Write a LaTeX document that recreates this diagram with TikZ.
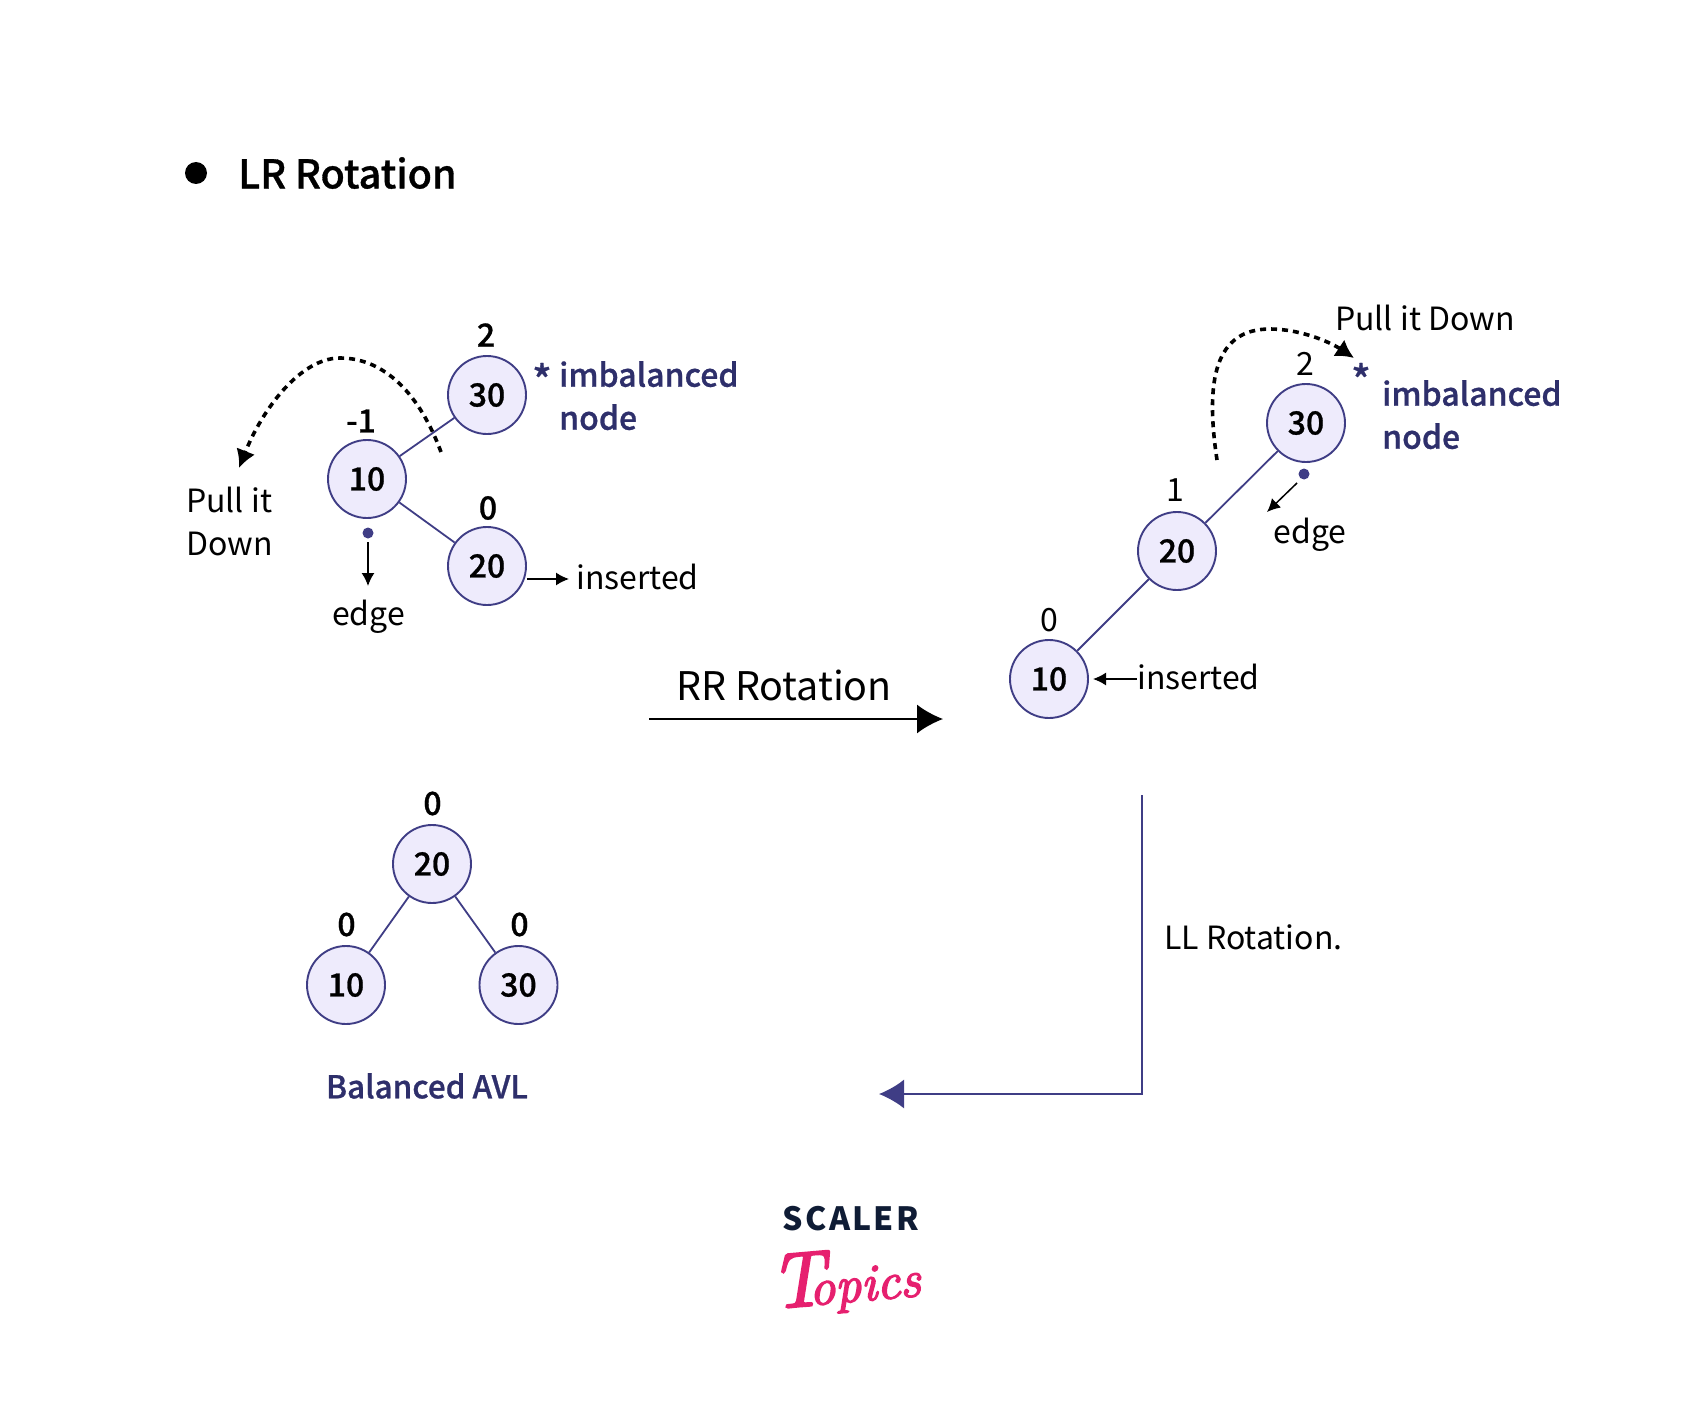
\documentclass[tikz,border=0pt]{standalone}
\usepackage{fontspec}
\usetikzlibrary{arrows.meta}
\setmainfont{Noto Sans CJK JP}
\newfontfamily\medf[FakeBold=0.8]{Noto Sans CJK JP Medium}
\newfontfamily\logofont[FakeBold=3]{Latin Modern Roman}
\definecolor{edgeblue}{HTML}{3F3D85}
\definecolor{nodefill}{HTML}{EEEBFC}
\definecolor{navy}{HTML}{2E2F6B}
\definecolor{logonavy}{HTML}{0F1C35}
\definecolor{logopink}{HTML}{E6206F}
\tikzset{
  x=1pt,y=-1pt,
  treenode/.style={circle,draw=edgeblue,fill=nodefill,line width=1.9pt,minimum size=78pt,inner sep=0pt,font=\medf\fontsize{32}{36}\selectfont,text=black},
  treeedge/.style={draw=edgeblue,line width=1.8pt},
  lab/.style={inner sep=0pt,font=\fontsize{32}{43}\selectfont,text=black},
  blab/.style={inner sep=0pt,font=\medf\fontsize{32}{43}\selectfont,text=black},
  navylab/.style={inner sep=0pt,align=left,font=\medf\fontsize{32}{43}\selectfont,text=navy},
  starlab/.style={inner sep=0pt,font=\medf\fontsize{40}{43}\selectfont,text=navy},
  thinarrow/.style={draw=black,line width=1.5pt,-{Latex[length=13pt,width=13pt]}},
  pull/.style={draw=black,line width=3.6pt,dash pattern=on 6pt off 5pt,-{Latex[length=18pt,width=20pt]}},
}
\begin{document}
\begin{tikzpicture}
\useasboundingbox (0,0) rectangle (1701,1418);
% title
\fill[black] (196,173) circle (11);
\node[inner sep=0pt,anchor=west,font=\medf\fontsize{39.5}{48}\selectfont] (title) at (238,173) {LR Rotation};
% left tree
\node[treenode] (la) at (487,395) {30};
\node[treenode] (lb) at (367,479) {10};
\node[treenode] (lc) at (487,566) {20};
\draw[treeedge] (la) -- (lb);
\draw[treeedge] (lb) -- (lc);
\node[blab] (l2) at (486,335) {2};
\node[blab] (l1) at (361,421) {-1};
\node[blab] (l0) at (488,508) {0};
\node[starlab] (lstar) at (542,379) {*};
\node[navylab,anchor=north west] (limb) at (559,361) {imbalanced\\node};
\node[lab,anchor=north west,align=left] (lpull) at (186,487) {Pull it\\Down};
\fill[edgeblue] (368,533) circle (5.5) coordinate (ldot);
\coordinate (ldots) at (368,542);
\node[lab] (ledge) at (368.5,617) {edge};
\coordinate (ledget) at (368,586);
\draw[thinarrow] (ldots) -- (ledget);
\node[lab,anchor=west] (lins) at (576,577) {inserted};
\coordinate (linst) at (569,579);
\draw[thinarrow] (lc.east |- linst) -- (linst);
\coordinate (lps) at (441,452);
\coordinate (lpk) at (340,358);
\coordinate (lpe) at (239,468);
\draw[pull] (lps) .. controls (420,395) and (385,358) .. (lpk) .. controls (300,358) and (262,410) .. (lpe);
% right tree
\node[treenode] (ra) at (1306,423) {30};
\node[treenode] (rb) at (1177,551) {20};
\node[treenode] (rc) at (1049,679) {10};
\draw[treeedge] (ra) -- (rb);
\draw[treeedge] (rb) -- (rc);
\node[lab] (r2) at (1305,364) {2};
\node[lab] (r1) at (1175,490) {1};
\node[lab] (r0) at (1049,620) {0};
\node[lab,anchor=west] (rpull) at (1335,318) {Pull it Down};
\node[starlab] (rstar) at (1361,379) {*};
\node[navylab,anchor=north west] (rimb) at (1382,380) {imbalanced\\node};
\fill[edgeblue] (1304,474) circle (5.5) coordinate (rdot);
\coordinate (rdots) at (1297,483);
\coordinate (redget) at (1267,512);
\draw[thinarrow] (rdots) -- (redget);
\node[lab] (redge) at (1310,535) {edge};
\node[lab,anchor=west] (rins) at (1137,677) {inserted};
\coordinate (rinst) at (1093,679);
\draw[thinarrow] (rins.west |- rinst) -- (rinst);
\coordinate (rps) at (1217,460);
\coordinate (rpk) at (1270,329);
\coordinate (rpe) at (1354,358);
\draw[pull] (rps) .. controls (1205,380) and (1215,329) .. (rpk) .. controls (1300,329) and (1330,342) .. (rpe);
% rotation arrows
\node[inner sep=0pt,font=\fontsize{39.4}{48}\selectfont] (rr) at (784,685) {RR Rotation};
\coordinate (rrs) at (649,719);
\coordinate (rre) at (943,719);
\draw[draw=black,line width=1.8pt,-{Latex[length=26pt,width=29pt]}] (rrs) -- (rre);
\coordinate (lls) at (1142,795);
\coordinate (llc) at (1142,1094);
\coordinate (lle) at (879,1094);
\draw[draw=edgeblue,line width=1.8pt,-{Latex[length=25pt,width=29pt]}] (lls) -- (llc) -- (lle);
\node[lab,anchor=west] (ll) at (1164,937) {LL Rotation.};
% balanced
\node[treenode] (ba) at (432,864) {20};
\node[treenode] (bb) at (346,985) {10};
\node[treenode] (bc) at (518.5,985) {30};
\draw[treeedge] (ba) -- (bb);
\draw[treeedge] (ba) -- (bc);
\node[blab] (b0) at (432.5,803.5) {0};
\node[blab] (b1) at (346.5,924.5) {0};
\node[blab] (b2) at (519.5,924.5) {0};
\node[inner sep=0pt,font=\medf\fontsize{31.5}{40}\selectfont,text=navy] (avl) at (427,1086) {Balanced AVL};
% logo
\node[inner sep=0pt,font=\fontsize{32}{36}\selectfont\bfseries\addfontfeatures{LetterSpace=7},text=logonavy] (scaler) at (851,1219) {SCALER};
\node[inner sep=0pt,rotate=5,font=\logofont\fontsize{52}{60}\selectfont\itshape,text=logopink] (topics) at (845,1281) {{\fontsize{78}{78}\selectfont T}\kern-16pt opics};
\end{tikzpicture}
\end{document}
